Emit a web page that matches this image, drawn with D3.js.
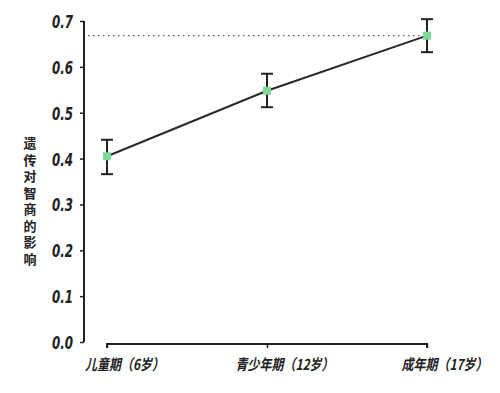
<!DOCTYPE html>
<html lang="zh">
<head>
  <meta charset="UTF-8">
  <title>遗传对智商的影响</title>
  <script src="https://d3js.org/d3.v7.min.js"></script>
  <style>
    body { margin: 0; background: #fff; }
    svg { display: block; }
    text { fill: #222; }
  </style>
</head>
<body>
  <svg></svg>
  <script>
    // 数据
    const categories = ['儿童期（6岁）', '青少年期（12岁）', '成年期（17岁）'];
    const values = [0.405, 0.548, 0.668];
    const lower = [0.366, 0.512, 0.632];
    const upper = [0.441, 0.585, 0.704];
    const yTicks = [0.0, 0.1, 0.2, 0.3, 0.4, 0.5, 0.6, 0.7];
    const refValue = 0.668;
    const yLabel = '遗传对智商的影响';

    const W = 500, H = 393;
    const svg = d3.select('svg').attr('width', W).attr('height', H);

    const x = d3.scalePoint().domain(categories).range([107, 427]);
    const y = d3.scaleLinear().domain([0, 0.7]).range([342, 21]);
    const axisX = 84;

    // y 轴
    const gy = svg.append('g')
      .attr('transform', `translate(${axisX},0)`)
      .call(d3.axisLeft(y).tickValues(yTicks).tickFormat(d3.format('.1f')).tickSize(4));
    gy.select('.domain').attr('stroke', '#222').attr('stroke-width', 2).attr('d', `M0,${y(0.7)}V${y(0)}`);
    gy.selectAll('.tick line').attr('stroke', '#222').attr('stroke-width', 1.5);
    // 压窄字体
    gy.selectAll('.tick text')
      .attr('x', 0).attr('dy', '0.36em')
      .attr('transform', 'translate(-11,0) scale(0.66,1)')
      .attr('font-size', 18).attr('font-style', 'italic').attr('font-weight', 'bold')
      .attr('fill', '#222')
      .style('font-family', '"DejaVu Sans", sans-serif');

    // x 轴（下移）
    const gx = svg.append('g')
      .attr('transform', 'translate(0,344)')
      .call(d3.axisBottom(x).tickSize(4));
    gx.select('.domain').attr('stroke', '#222').attr('stroke-width', 2)
      .attr('d', `M${x(categories[0])},4V0H${x(categories[2])}V4`);
    gx.selectAll('.tick line').attr('stroke', '#222').attr('stroke-width', 1.5);
    gx.selectAll('.tick text')
      .attr('y', 0).attr('dy', 0)
      .attr('transform', 'translate(17,26) scale(0.8,1)')
      .attr('font-size', 15).attr('font-style', 'italic').attr('font-weight', 'bold')
      .attr('fill', '#222')
      .style('font-family', '"Noto Sans CJK SC", sans-serif');

    // 参考虚线
    svg.append('line')
      .attr('x1', axisX + 4).attr('x2', x(categories[2]) - 4)
      .attr('y1', y(refValue)).attr('y2', y(refValue))
      .attr('stroke', '#333').attr('stroke-width', 1)
      .attr('stroke-dasharray', '1.5,3.5');

    // 折线
    const line = d3.line()
      .x((d, i) => x(categories[i]))
      .y(d => y(d));
    svg.append('path')
      .datum(values)
      .attr('fill', 'none')
      .attr('stroke', '#2a2a2a')
      .attr('stroke-width', 2)
      .attr('d', line);

    // 误差线
    const eb = svg.selectAll('g.err').data(categories).enter().append('g').attr('class', 'err');
    eb.append('line')
      .attr('x1', d => x(d)).attr('x2', d => x(d))
      .attr('y1', (d, i) => y(upper[i])).attr('y2', (d, i) => y(lower[i]))
      .attr('stroke', '#222').attr('stroke-width', 2);
    eb.append('line')
      .attr('x1', d => x(d) - 6).attr('x2', d => x(d) + 6)
      .attr('y1', (d, i) => y(upper[i])).attr('y2', (d, i) => y(upper[i]))
      .attr('stroke', '#222').attr('stroke-width', 2);
    eb.append('line')
      .attr('x1', d => x(d) - 6).attr('x2', d => x(d) + 6)
      .attr('y1', (d, i) => y(lower[i])).attr('y2', (d, i) => y(lower[i]))
      .attr('stroke', '#222').attr('stroke-width', 2);

    // 点
    svg.selectAll('rect.pt').data(values).enter().append('rect')
      .attr('class', 'pt')
      .attr('x', (d, i) => x(categories[i]) - 4)
      .attr('y', d => y(d) - 4)
      .attr('width', 8).attr('height', 8)
      .attr('fill', '#7dd89a');

    // y 轴标题（竖排）
    svg.append('text')
      .attr('x', 30).attr('y', 137)
      .style('writing-mode', 'vertical-rl')
      .style('text-orientation', 'upright')
      .attr('font-size', 13).attr('font-weight', 'bold')
      .attr('letter-spacing', 3.5)
      .style('font-family', '"Noto Sans CJK SC", sans-serif')
      .text(yLabel);
  </script>
</body>
</html>
